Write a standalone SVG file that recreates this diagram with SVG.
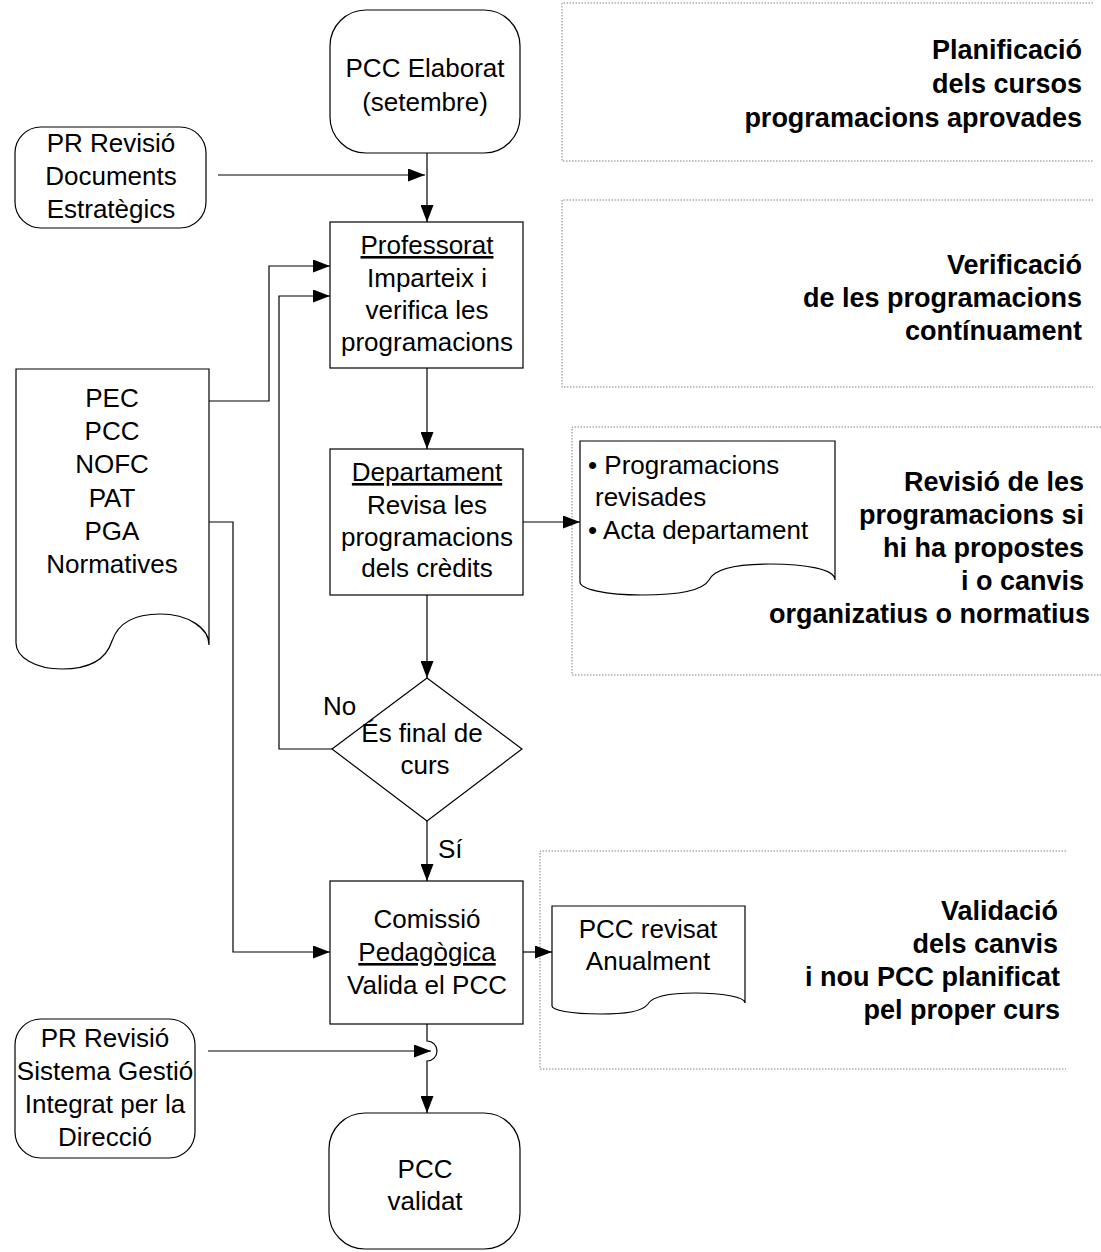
<svg xmlns="http://www.w3.org/2000/svg" width="1101" height="1252" viewBox="0 0 1101 1252">
  <style>
    .shape { fill: #ffffff; stroke: #000000; stroke-width: 1.2; }
    .note { fill: none; stroke: #808080; stroke-width: 1; stroke-dasharray: 1.5 1.5; }
    .wire { fill: none; stroke: #000000; stroke-width: 1.2; }
    .t { font-family: "Liberation Sans", Arial, sans-serif; font-size: 26px; fill: #000000; text-anchor: middle; }
    .tl { font-family: "Liberation Sans", Arial, sans-serif; font-size: 26px; fill: #000000; }
    .b { font-family: "Liberation Sans", Arial, sans-serif; font-size: 27px; font-weight: bold; fill: #000000; text-anchor: end; }
    .u { text-decoration: underline; }
  </style>
  <defs>
    <marker id="arrow" markerUnits="userSpaceOnUse" markerWidth="17" markerHeight="13" refX="17" refY="6.5" orient="auto">
      <path d="M0,0 L17,6.5 L0,13 Z" fill="#000000"/>
    </marker>
  </defs>

  <rect width="1101" height="1252" fill="#ffffff"/>

  <!-- annotation panels (open on the right) -->
  <g id="note-planificacio">
    <path class="note" d="M1093,3 H562 V161 H1093"/>
    <text class="b" x="1082" y="59">Planificació</text>
    <text class="b" x="1082" y="93">dels cursos</text>
    <text class="b" x="1082" y="127">programacions aprovades</text>
  </g>
  <g id="note-verificacio">
    <path class="note" d="M1093,200 H562 V387 H1093"/>
    <text class="b" x="1082" y="274">Verificació</text>
    <text class="b" x="1082" y="307">de les programacions</text>
    <text class="b" x="1082" y="340">contínuament</text>
  </g>
  <g id="note-revisio">
    <path class="note" d="M1101,427 H572 V675 H1101"/>
    <text class="b" x="1084" y="491">Revisió de les</text>
    <text class="b" x="1084" y="524">programacions si</text>
    <text class="b" x="1084" y="557">hi ha propostes</text>
    <text class="b" x="1084" y="590">i o canvis</text>
    <text class="b" x="1090" y="623">organizatius o normatius</text>
  </g>
  <g id="note-validacio">
    <path class="note" d="M1066,851 H540 V1069 H1066"/>
    <text class="b" x="1058" y="920">Validació</text>
    <text class="b" x="1058" y="953">dels canvis</text>
    <text class="b" x="1060" y="986">i nou PCC planificat</text>
    <text class="b" x="1060" y="1019">pel proper curs</text>
  </g>

  <!-- connectors -->
  <g id="connectors">
    <path class="wire" d="M427,153 V222" marker-end="url(#arrow)"/>
    <path class="wire" d="M218,175 H425" marker-end="url(#arrow)"/>
    <path class="wire" d="M427,368 V449" marker-end="url(#arrow)"/>
    <path class="wire" d="M427,595 V678" marker-end="url(#arrow)"/>
    <path class="wire" d="M427,821 V881" marker-end="url(#arrow)"/>
    <path class="wire" d="M523,522 H580" marker-end="url(#arrow)"/>
    <path class="wire" d="M523,952 H552" marker-end="url(#arrow)"/>
    <path class="wire" d="M209,401 H269 V266 H330" marker-end="url(#arrow)"/>
    <path class="wire" d="M332,749 H279 V296 H330" marker-end="url(#arrow)"/>
    <path class="wire" d="M209,522 H233 V952 H330" marker-end="url(#arrow)"/>
    <!-- vertical run with a hop over the incoming line -->
    <path class="wire" d="M427,1024 V1041 A10,10 0 0 1 427,1061 V1113" marker-end="url(#arrow)"/>
    <path class="wire" d="M208,1051 H431" marker-end="url(#arrow)"/>
  </g>

  <g id="pcc-elaborat">
    <rect class="shape" x="330" y="10" width="190" height="143" rx="36" ry="36"/>
    <text class="t" x="425" y="77">PCC Elaborat</text>
    <text class="t" x="425" y="111">(setembre)</text>
  </g>

  <g id="pr-revisio-documents">
    <rect class="shape" x="15" y="127" width="191" height="101" rx="26" ry="26"/>
    <text class="t" x="111" y="152">PR Revisió</text>
    <text class="t" x="111" y="185">Documents</text>
    <text class="t" x="111" y="218">Estratègics</text>
  </g>

  <g id="professorat">
    <rect class="shape" x="330" y="222" width="193" height="146"/>
    <text class="t u" x="427" y="254">Professorat</text>
    <text class="t" x="427" y="287">Imparteix i</text>
    <text class="t" x="427" y="319">verifica les</text>
    <text class="t" x="427" y="351">programacions</text>
  </g>

  <g id="documents-base">
    <path class="shape" d="M16,369 H209 V645 C209,628 188,614 160,614 C130,614 117,626 112,641 C106,660 88,669 62,669 C35,669 16,657 16,643 Z"/>
    <text class="t" x="112" y="407">PEC</text>
    <text class="t" x="112" y="440">PCC</text>
    <text class="t" x="112" y="473">NOFC</text>
    <text class="t" x="112" y="507">PAT</text>
    <text class="t" x="112" y="540">PGA</text>
    <text class="t" x="112" y="573">Normatives</text>
  </g>

  <g id="departament">
    <rect class="shape" x="330" y="449" width="193" height="146"/>
    <text class="t u" x="427" y="481">Departament</text>
    <text class="t" x="427" y="514">Revisa les</text>
    <text class="t" x="427" y="546">programacions</text>
    <text class="t" x="427" y="577">dels crèdits</text>
  </g>

  <g id="programacions-revisades">
    <path class="shape" d="M580,441 H835 V580 C835,569 805,564 770,564 C735,564 714,569 709,580 C702,592 675,595 642,595 C605,595 580,589 580,582 Z"/>
    <text class="tl" x="588" y="474">• Programacions</text>
    <text class="tl" x="595" y="506">revisades</text>
    <text class="tl" x="588" y="539">• Acta departament</text>
  </g>

  <g id="decisio-final-curs">
    <path class="shape" d="M427,678 L522,749 L427,821 L332,749 Z"/>
    <text class="t" x="422" y="742">És final de</text>
    <text class="t" x="425" y="774">curs</text>
    <text class="tl" x="323" y="715">No</text>
    <text class="tl" x="438" y="858">Sí</text>
  </g>

  <g id="comissio-pedagogica">
    <rect class="shape" x="330" y="881" width="193" height="143"/>
    <text class="t" x="427" y="928">Comissió</text>
    <text class="t u" x="427" y="961">Pedagògica</text>
    <text class="t" x="427" y="994">Valida el PCC</text>
  </g>

  <g id="pcc-revisat">
    <path class="shape" d="M552,906 H745 V1003 C745,997 722,993 695,993 C665,993 652,997 648,1004 C642,1012 625,1014 600,1014 C570,1014 552,1010 552,1006 Z"/>
    <text class="t" x="648" y="938">PCC revisat</text>
    <text class="t" x="648" y="970">Anualment</text>
  </g>

  <g id="pr-revisio-sistema">
    <rect class="shape" x="15" y="1019" width="180" height="139" rx="26" ry="26"/>
    <text class="t" x="105" y="1047">PR Revisió</text>
    <text class="t" x="105" y="1080">Sistema Gestió</text>
    <text class="t" x="105" y="1113">Integrat per la</text>
    <text class="t" x="105" y="1146">Direcció</text>
  </g>

  <g id="pcc-validat">
    <rect class="shape" x="329" y="1113" width="191" height="136" rx="36" ry="36"/>
    <text class="t" x="425" y="1178">PCC</text>
    <text class="t" x="425" y="1210">validat</text>
  </g>
</svg>
